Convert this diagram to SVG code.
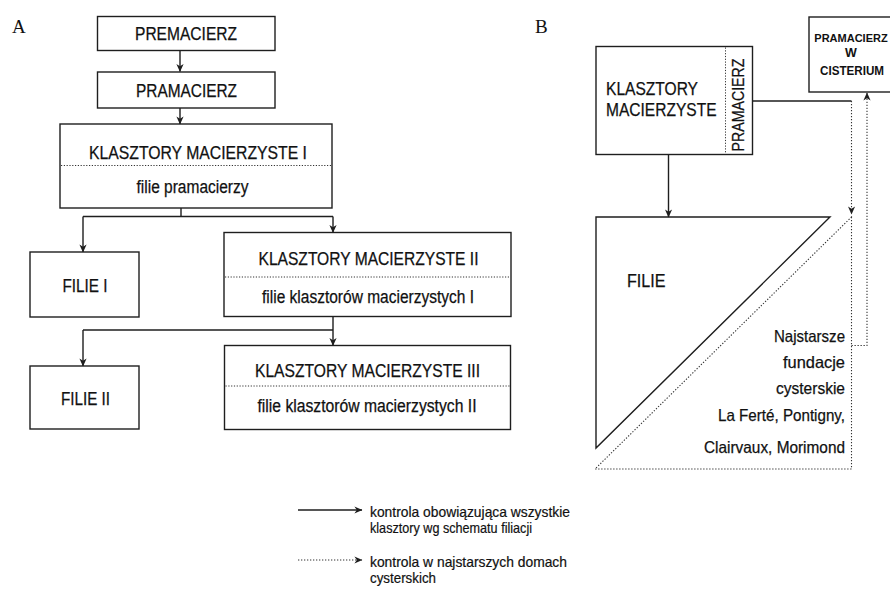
<svg xmlns="http://www.w3.org/2000/svg" width="890" height="589" viewBox="0 0 890 589">
<defs>
<style>
.box{fill:#fff;stroke:#1e1e1e;stroke-width:1.4}
.div{stroke:#333;stroke-width:1;stroke-dasharray:1.2 1.6;fill:none}
.ln{stroke:#1e1e1e;stroke-width:1.4;fill:none}
.dt{stroke:#333;stroke-width:1.1;stroke-dasharray:1.3 1.7;fill:none}
.t{font-family:"Liberation Sans",Arial,sans-serif;font-size:17.5px;fill:#111;stroke:#111;stroke-width:0.25}
.s{font-size:16.5px}
.c{text-anchor:middle}
.r{text-anchor:end}
.lg{font-family:"Liberation Sans",Arial,sans-serif;font-size:14.3px;fill:#111;stroke:#111;stroke-width:0.2}
.cis{font-family:"Liberation Sans",Arial,sans-serif;font-size:12.5px;font-weight:bold;fill:#111;text-anchor:middle}
.cs{font-size:11px}
.lab{font-family:"Liberation Serif","Times New Roman",serif;font-size:19px;fill:#111}
</style>
<marker id="arr" viewBox="0 0 10 10" refX="9.5" refY="5" markerWidth="10" markerHeight="8" markerUnits="userSpaceOnUse" orient="auto">
<path d="M0,0.5 L10,5 L0,9.5 L3,5 z" fill="#1e1e1e"/>
</marker>
</defs>
<rect width="890" height="589" fill="#fff"/>

<text class="lab" x="12" y="33">A</text>
<text class="lab" x="535" y="33">B</text>

<g id="connectors">
<line class="ln" x1="180" y1="50.5" x2="180" y2="71.5" marker-end="url(#arr)"/>
<line class="ln" x1="180" y1="108" x2="180" y2="124" marker-end="url(#arr)"/>
<polyline class="ln" points="181,208 181,216.5"/>
<line class="ln" x1="83" y1="216.5" x2="333" y2="216.5"/>
<line class="ln" x1="83" y1="216.5" x2="83" y2="252" marker-end="url(#arr)"/>
<line class="ln" x1="333" y1="216.5" x2="333" y2="232.5" marker-end="url(#arr)"/>
<line class="ln" x1="333" y1="316.5" x2="333" y2="330"/>
<line class="ln" x1="83" y1="330" x2="333" y2="330"/>
<line class="ln" x1="83" y1="330" x2="83" y2="366" marker-end="url(#arr)"/>
<line class="ln" x1="333" y1="330" x2="333" y2="345.5" marker-end="url(#arr)"/>
<line class="ln" x1="668.5" y1="154.5" x2="668.5" y2="217" marker-end="url(#arr)"/>
<line class="ln" x1="752.5" y1="101" x2="851.5" y2="101"/>
<line class="dt" x1="851.5" y1="101" x2="851.5" y2="214" marker-end="url(#arr)"/>
<polyline class="dt" points="851.5,345.5 867,345.5 867,93" marker-end="url(#arr)"/>
<line class="ln" x1="298" y1="510" x2="362" y2="510" marker-end="url(#arr)"/>
<line class="dt" x1="298" y1="560" x2="362" y2="560" marker-end="url(#arr)"/>
</g>

<g id="premacierz">
<rect class="box" x="97.5" y="16.5" width="177.5" height="34"/>
<text class="t c" x="186" y="40" textLength="102" lengthAdjust="spacingAndGlyphs">PREMACIERZ</text>
</g>
<g id="pramacierz">
<rect class="box" x="97.5" y="72" width="177.5" height="36"/>
<text class="t c" x="186.5" y="96.5" textLength="101" lengthAdjust="spacingAndGlyphs">PRAMACIERZ</text>
</g>
<g id="km1">
<rect class="box" x="60" y="124" width="272" height="84"/>
<line class="div" x1="61" y1="165.5" x2="331" y2="165.5"/>
<text class="t c" x="198" y="159" textLength="218" lengthAdjust="spacingAndGlyphs">KLASZTORY MACIERZYSTE I</text>
<text class="t c" x="192.5" y="193" textLength="112" lengthAdjust="spacingAndGlyphs">filie pramacierzy</text>
</g>
<g id="filie1">
<rect class="box" x="30" y="252" width="109" height="65"/>
<text class="t c" x="85" y="291.5" textLength="45" lengthAdjust="spacingAndGlyphs">FILIE I</text>
</g>
<g id="km2">
<rect class="box" x="224" y="232.5" width="287" height="84"/>
<line class="div" x1="225" y1="277" x2="510" y2="277"/>
<text class="t c" x="368.5" y="265" textLength="220" lengthAdjust="spacingAndGlyphs">KLASZTORY MACIERZYSTE II</text>
<text class="t c" x="368" y="303" textLength="212" lengthAdjust="spacingAndGlyphs">filie klasztorów macierzystych I</text>
</g>
<g id="filie2">
<rect class="box" x="30" y="366" width="109" height="63"/>
<text class="t c" x="85.5" y="405" textLength="49" lengthAdjust="spacingAndGlyphs">FILIE II</text>
</g>
<g id="km3">
<rect class="box" x="224.5" y="345.5" width="286" height="84"/>
<line class="div" x1="225.5" y1="386" x2="509.5" y2="386"/>
<text class="t c" x="367.5" y="377" textLength="225" lengthAdjust="spacingAndGlyphs">KLASZTORY MACIERZYSTE III</text>
<text class="t c" x="367" y="412" textLength="219" lengthAdjust="spacingAndGlyphs">filie klasztorów macierzystych II</text>
</g>

<g id="km-b">
<rect class="box" x="596" y="46.5" width="156.5" height="108"/>
<line class="div" x1="725.5" y1="47.5" x2="725.5" y2="153.5"/>
<text class="t" x="606" y="95" textLength="92" lengthAdjust="spacingAndGlyphs">KLASZTORY</text>
<text class="t" x="606" y="116" textLength="110.5" lengthAdjust="spacingAndGlyphs">MACIERZYSTE</text>
<text class="t c s" transform="translate(743.5,105) rotate(-90)" textLength="93" lengthAdjust="spacingAndGlyphs">PRAMACIERZ</text>
</g>
<g id="cisterium">
<rect class="box" x="809" y="17" width="92" height="75"/>
<text class="cis cs" x="851" y="41.5">PRAMACIERZ</text>
<text class="cis" x="851" y="57">W</text>
<text class="cis" x="852" y="75" textLength="64" lengthAdjust="spacingAndGlyphs">CISTERIUM</text>
</g>
<g id="filie-b">
<polygon class="ln" points="596,217 830,217 596,448" fill="#fff"/>
<text class="t" x="627" y="287" textLength="38.5" lengthAdjust="spacingAndGlyphs">FILIE</text>
</g>
<g id="najstarsze">
<polygon class="dt" points="851.5,217 851.5,469 595,469"/>
<text class="t r s" x="845" y="342" textLength="71" lengthAdjust="spacingAndGlyphs">Najstarsze</text>
<text class="t r s" x="845" y="368" textLength="62" lengthAdjust="spacingAndGlyphs">fundacje</text>
<text class="t r s" x="845" y="394" textLength="69" lengthAdjust="spacingAndGlyphs">cysterskie</text>
<text class="t r s" x="845" y="421" textLength="127" lengthAdjust="spacingAndGlyphs">La Ferté, Pontigny,</text>
<text class="t r s" x="845" y="452.5" textLength="141" lengthAdjust="spacingAndGlyphs">Clairvaux, Morimond</text>
</g>

<g id="legend">
<text class="lg" x="370" y="516.5" textLength="200" lengthAdjust="spacingAndGlyphs">kontrola obowiązująca wszystkie</text>
<text class="lg" x="370" y="533" textLength="162" lengthAdjust="spacingAndGlyphs">klasztory wg schematu filiacji</text>
<text class="lg" x="370" y="567" textLength="197" lengthAdjust="spacingAndGlyphs">kontrola w najstarszych domach</text>
<text class="lg" x="370" y="583" textLength="66" lengthAdjust="spacingAndGlyphs">cysterskich</text>
</g>
</svg>
